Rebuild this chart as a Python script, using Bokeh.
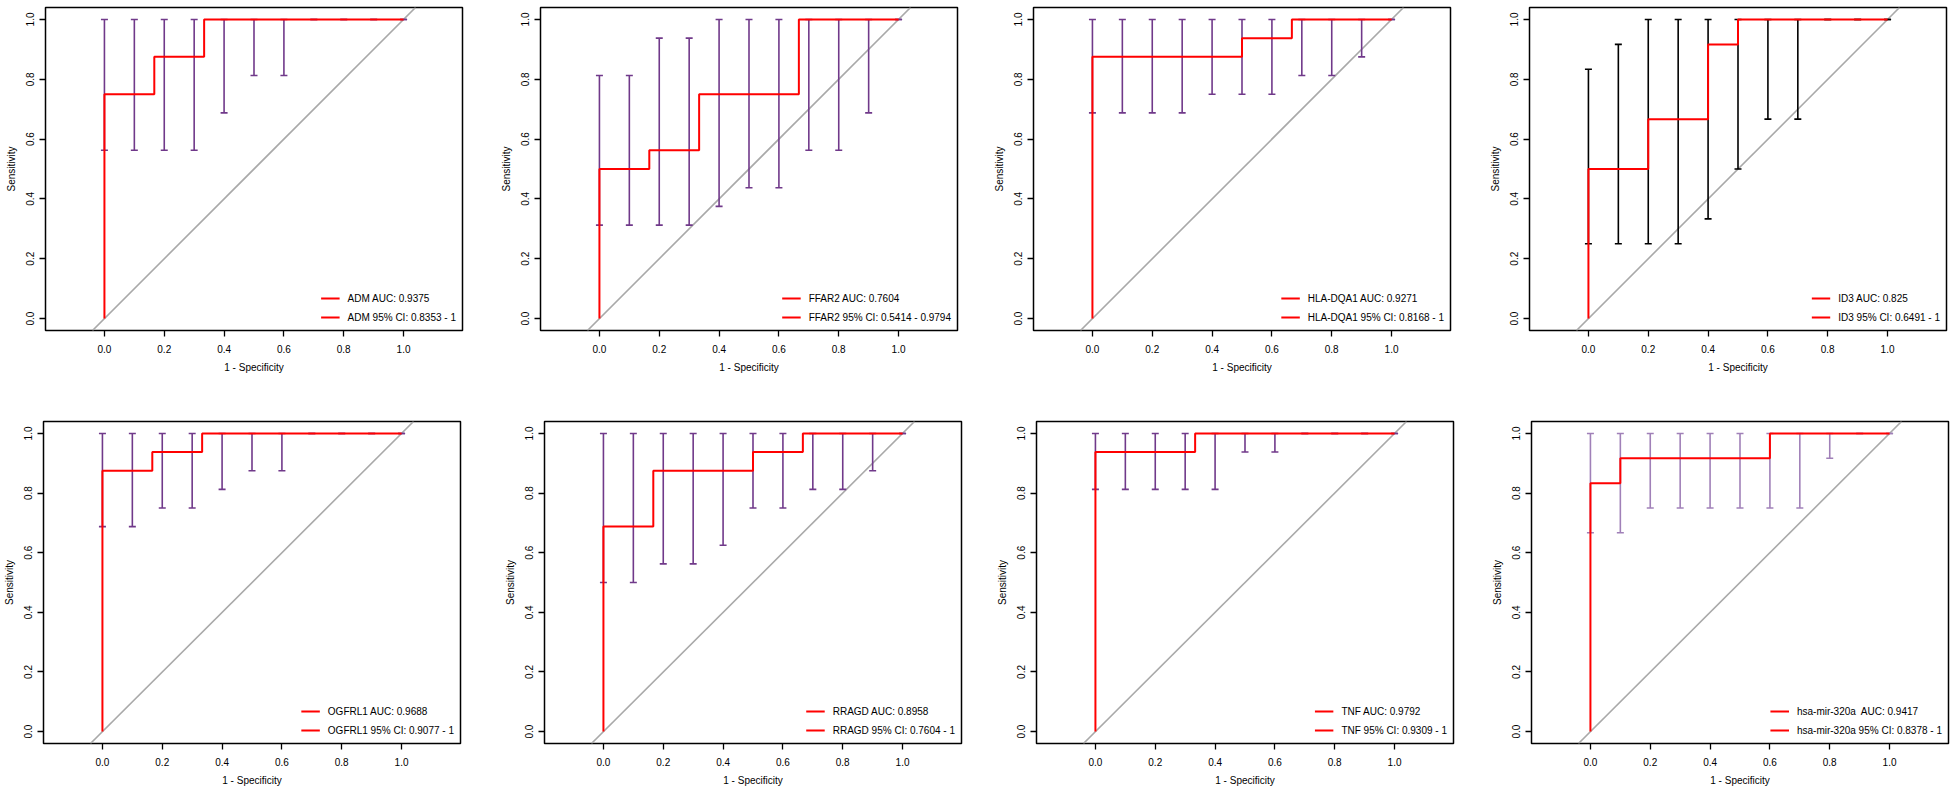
from bokeh.plotting import figure
from bokeh.layouts import column, row
from bokeh.models import (ColumnDataSource, Whisker, TeeHead, Legend, LegendItem,
                          FixedTicker, Range1d, Slope)
from bokeh.embed import file_html
from bokeh.resources import INLINE

# ---------------- data ----------------
TICKS = [0.0, 0.2, 0.4, 0.6, 0.8, 1.0]
TICK_LABELS = ["0.0", "0.2", "0.4", "0.6", "0.8", "1.0"]

# 1 - specificity points where the sensitivity CI is shown
CI_FPR = [0.0, 0.1, 0.2, 0.3, 0.4, 0.5, 0.6, 0.7, 0.8, 0.9, 1.0]

NAMES = ["ADM", "FFAR2", "HLA-DQA1", "ID3", "OGFRL1", "RRAGD", "TNF", "hsa-mir-320a"]
AUC_LABELS = ["ADM AUC: 0.9375", "FFAR2 AUC: 0.7604", "HLA-DQA1 AUC: 0.9271", "ID3 AUC: 0.825",
              "OGFRL1 AUC: 0.9688", "RRAGD AUC: 0.8958", "TNF AUC: 0.9792", "hsa-mir-320a  AUC: 0.9417"]
CI_LABELS = ["ADM 95% CI: 0.8353 - 1", "FFAR2 95% CI: 0.5414 - 0.9794", "HLA-DQA1 95% CI: 0.8168 - 1",
             "ID3 95% CI: 0.6491 - 1", "OGFRL1 95% CI: 0.9077 - 1", "RRAGD 95% CI: 0.7604 - 1",
             "TNF 95% CI: 0.9309 - 1", "hsa-mir-320a 95% CI: 0.8378 - 1"]

# ROC curve vertices (1 - specificity, sensitivity), drawn as steps
ADM_FPR = [0, 0, 0.1667, 0.3333, 1]
ADM_TPR = [0, 0.75, 0.875, 1, 1]
FFAR2_FPR = [0, 0, 0.1667, 0.3333, 0.6667, 1]
FFAR2_TPR = [0, 0.5, 0.5625, 0.75, 1, 1]
HLA_FPR = [0, 0, 0.5, 0.6667, 1]
HLA_TPR = [0, 0.875, 0.9375, 1, 1]
ID3_FPR = [0, 0, 0.2, 0.4, 0.5, 1]
ID3_TPR = [0, 0.5, 0.6667, 0.9167, 1, 1]
OGFRL1_FPR = [0, 0, 0.1667, 0.3333, 1]
OGFRL1_TPR = [0, 0.875, 0.9375, 1, 1]
RRAGD_FPR = [0, 0, 0.1667, 0.5, 0.6667, 1]
RRAGD_TPR = [0, 0.6875, 0.875, 0.9375, 1, 1]
TNF_FPR = [0, 0, 0.3333, 1]
TNF_TPR = [0, 0.9375, 1, 1]
MIR_FPR = [0, 0, 0.1, 0.6, 1]
MIR_TPR = [0, 0.8333, 0.9167, 1, 1]

# sensitivity confidence intervals at CI_FPR
ADM_LO = [0.5625, 0.5625, 0.5625, 0.5625, 0.6875, 0.8125, 0.8125, 1, 1, 1, 1]
ADM_HI = [1, 1, 1, 1, 1, 1, 1, 1, 1, 1, 1]
FFAR2_LO = [0.3125, 0.3125, 0.3125, 0.3125, 0.375, 0.4375, 0.4375, 0.5625, 0.5625, 0.6875, 1]
FFAR2_HI = [0.8125, 0.8125, 0.9375, 0.9375, 1, 1, 1, 1, 1, 1, 1]
HLA_LO = [0.6875, 0.6875, 0.6875, 0.6875, 0.75, 0.75, 0.75, 0.8125, 0.8125, 0.875, 1]
HLA_HI = [1, 1, 1, 1, 1, 1, 1, 1, 1, 1, 1]
ID3_LO = [0.25, 0.25, 0.25, 0.25, 0.3333, 0.5, 0.6667, 0.6667, 1, 1, 1]
ID3_HI = [0.8333, 0.9167, 1, 1, 1, 1, 1, 1, 1, 1, 1]
OGFRL1_LO = [0.6875, 0.6875, 0.75, 0.75, 0.8125, 0.875, 0.875, 1, 1, 1, 1]
OGFRL1_HI = [1, 1, 1, 1, 1, 1, 1, 1, 1, 1, 1]
RRAGD_LO = [0.5, 0.5, 0.5625, 0.5625, 0.625, 0.75, 0.75, 0.8125, 0.8125, 0.875, 1]
RRAGD_HI = [1, 1, 1, 1, 1, 1, 1, 1, 1, 1, 1]
TNF_LO = [0.8125, 0.8125, 0.8125, 0.8125, 0.8125, 0.9375, 0.9375, 1, 1, 1, 1]
TNF_HI = [1, 1, 1, 1, 1, 1, 1, 1, 1, 1, 1]
MIR_LO = [0.6667, 0.6667, 0.75, 0.75, 0.75, 0.75, 0.75, 0.75, 0.9167, 1, 1]
MIR_HI = [1, 1, 1, 1, 1, 1, 1, 1, 1, 1, 1]

ROC_FPR = [ADM_FPR, FFAR2_FPR, HLA_FPR, ID3_FPR, OGFRL1_FPR, RRAGD_FPR, TNF_FPR, MIR_FPR]
ROC_TPR = [ADM_TPR, FFAR2_TPR, HLA_TPR, ID3_TPR, OGFRL1_TPR, RRAGD_TPR, TNF_TPR, MIR_TPR]
CI_LO = [ADM_LO, FFAR2_LO, HLA_LO, ID3_LO, OGFRL1_LO, RRAGD_LO, TNF_LO, MIR_LO]
CI_HI = [ADM_HI, FFAR2_HI, HLA_HI, ID3_HI, OGFRL1_HI, RRAGD_HI, TNF_HI, MIR_HI]

BAR_COLORS = ["#70398A", "#70398A", "#70398A", "#000000",
              "#70398A", "#70398A", "#70398A", "#A080B8"]

# ---------------- styling / layout ----------------
FONT = "Liberation Sans"
ROC_COLOR = "#FF0000"
DIAG_COLOR = "#A9A9A9"

FRAME_W = 417
# per panel borders: (left, right, top, bottom, frame_height)
GEOM = [
    (45, 33, 6, 81, 323), (45, 33, 7, 80, 323), (42, 35, 7, 80, 323), (44, 5, 4, 83, 323),
    (40, 38, 10, 45, 322), (46, 32, 11, 44, 322), (43, 34, 8, 47, 322), (44, 5, 8, 47, 322),
]


def make_panel(i):
    left, right, top, bottom, fh = GEOM[i]
    p = figure(frame_width=FRAME_W, frame_height=fh,
               x_range=Range1d(-0.197, 1.197), y_range=Range1d(-0.04, 1.04),
               output_backend="svg", toolbar_location=None,
               min_border_left=left, min_border_right=right,
               min_border_top=top, min_border_bottom=bottom)
    p.background_fill_color = "white"
    p.border_fill_color = "white"
    p.outline_line_color = "black"
    p.outline_line_width = 1.5
    p.xgrid.grid_line_color = None
    p.ygrid.grid_line_color = None

    diag = Slope(gradient=1, y_intercept=0, line_color=DIAG_COLOR, line_width=1.6, level="underlay")
    p.add_layout(diag)

    roc = p.step(x=ROC_FPR[i], y=ROC_TPR[i], mode="after", line_color=ROC_COLOR, line_width=2)

    src = ColumnDataSource(dict(base=CI_FPR, lower=CI_LO[i], upper=CI_HI[i]))
    col = BAR_COLORS[i]
    wh = Whisker(source=src, base="base", lower="lower", upper="upper",
                 line_color=col, line_width=1.6,
                 upper_head=TeeHead(size=7, line_color=col, line_width=1.6),
                 lower_head=TeeHead(size=7, line_color=col, line_width=1.6))
    p.add_layout(wh)

    for ax in (p.xaxis[0], p.yaxis[0]):
        ax.ticker = FixedTicker(ticks=TICKS)
        ax.major_label_overrides = dict(zip(TICKS, TICK_LABELS))
        ax.minor_tick_line_color = None
        ax.major_tick_in = 0
        ax.major_tick_out = 6
        ax.major_tick_line_color = "black"
        ax.major_tick_line_width = 1.3
        ax.axis_line_color = None
        ax.major_label_text_font = FONT
        ax.major_label_text_font_size = "10px"
        ax.major_label_text_color = "black"
        ax.axis_label_text_font = FONT
        ax.axis_label_text_font_size = "10px"
        ax.axis_label_text_font_style = "normal"
        ax.axis_label_text_color = "black"
    p.xaxis.axis_label = "1 - Specificity"
    p.yaxis.axis_label = "Sensitivity"
    p.xaxis.major_label_standoff = 8
    p.xaxis.axis_label_standoff = 6
    p.yaxis.major_label_orientation = "vertical"
    p.yaxis.major_label_standoff = 5
    p.yaxis.axis_label_standoff = 7

    legend = Legend(items=[LegendItem(label=AUC_LABELS[i], renderers=[roc]),
                           LegendItem(label=CI_LABELS[i], renderers=[roc])],
                    location="bottom_right", margin=0, padding=6, spacing=5,
                    label_height=14, glyph_height=14, glyph_width=19, label_standoff=8,
                    label_text_font=FONT, label_text_font_size="10px", label_text_color="black",
                    border_line_alpha=0, background_fill_alpha=0)
    p.add_layout(legend)
    return p


rows = []
for r in range(2):
    rows.append(row(*[make_panel(r * 4 + c) for c in range(4)], spacing=0))

layout = column(*rows, spacing=0)

open("out.html", "w").write(file_html(layout, INLINE))
